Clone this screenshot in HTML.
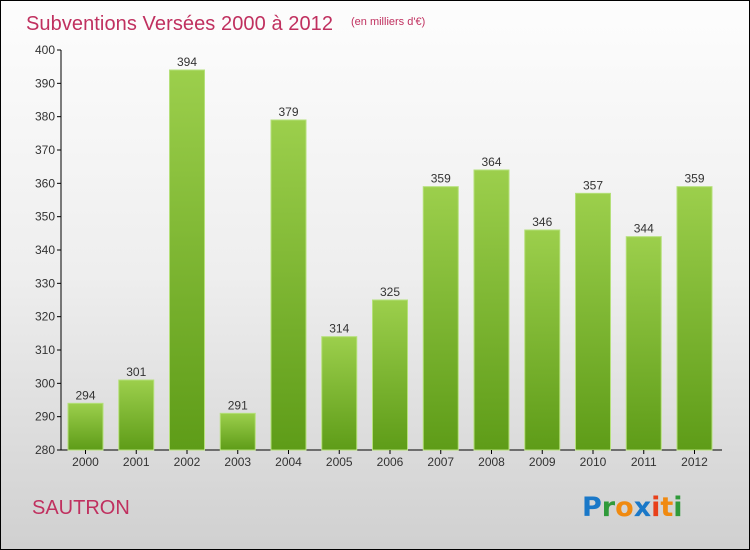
<!DOCTYPE html>
<html><head><meta charset="utf-8"><style>
html,body{margin:0;padding:0}
body{width:750px;height:550px;overflow:hidden;font-family:"Liberation Sans",sans-serif}
#wrap{position:absolute;left:0;top:0;width:748px;height:548px;border:1px solid #000;background:linear-gradient(#fdfdfd 0%,#eeeeee 50%,#d0d0d0 100%)}
</style></head><body>
<div id="wrap">
<svg id="chart" width="750" height="550" style="position:absolute;left:-1px;top:-1px">
<defs><linearGradient id="g" x1="0" y1="0" x2="0" y2="1"><stop offset="0" stop-color="#9ccf4c"/><stop offset="1" stop-color="#5e9c18"/></linearGradient></defs>
<text x="26" y="30" font-size="20" textLength="307" fill="#c0305f">Subventions Versées 2000 à 2012</text>
<text x="351" y="25" font-size="11" fill="#c0305f">(en milliers d'€)</text>
<text x="32" y="514" font-size="20" fill="#c0305f">SAUTRON</text>
<g font-size="27" font-weight="bold" font-family="DejaVu Sans, sans-serif">
<text x="582" y="516"><tspan fill="#1a78c8">P</tspan><tspan fill="#2f9a3a">r</tspan><tspan fill="#f08a10">o</tspan><tspan fill="#1a78c8">x</tspan><tspan fill="#e8401a">i</tspan><tspan fill="#f08a10">t</tspan><tspan fill="#2f9a3a">i</tspan></text></g>
<g id="plot"></g>
</svg></div>
<script>
const years=["2000","2001","2002","2003","2004","2005","2006","2007","2008","2009","2010","2011","2012"];
const values=[294,301,394,291,379,314,325,359,364,346,357,344,359];
const yTicks=[280,290,300,310,320,330,340,350,360,370,380,390,400];
const NS="http://www.w3.org/2000/svg";
const plot=document.getElementById('plot');
const yMin=280,yMax=400,pTop=50,pBot=450;
const ys=v=>pBot-(v-yMin)/(yMax-yMin)*(pBot-pTop);
const xs=i=>85.5+i*50.75;
function el(t,a){const e=document.createElementNS(NS,t);for(const k in a)e.setAttribute(k,a[k]);plot.appendChild(e);return e;}
yTicks.forEach(t=>{
 const l=el('line',{x1:57,x2:61,y1:ys(t),y2:ys(t),stroke:'#000'});
 
 
 const tx=el('text',{x:55,y:ys(t)+4,'font-size':12,'text-anchor':'end',fill:'#333'});tx.textContent=t;
 
 
});
const ya=el('line',{x1:61,x2:61,y1:pTop,y2:pBot,stroke:'#000'});


const xa=el('line',{x1:61,x2:722,y1:pBot,y2:pBot,stroke:'#000'});


years.forEach((y,i)=>{
 const c=xs(i),v=values[i];
 const r=el('rect',{x:c-17.5,y:ys(v),width:35,height:pBot-ys(v),fill:'url(#g)',stroke:'#b5e07a','stroke-width':1});
 
 
 const vl=el('text',{x:c,y:ys(v)-4,'font-size':12,'text-anchor':'middle',fill:'#333'});vl.textContent=v;
 
 
 const tk=el('line',{x1:c,x2:c,y1:pBot,y2:pBot+4,stroke:'#000'});
 
 
 const xl=el('text',{x:c,y:pBot+16,'font-size':12,'text-anchor':'middle',fill:'#333'});xl.textContent=y;
 
 
});
</script>
</body></html>
